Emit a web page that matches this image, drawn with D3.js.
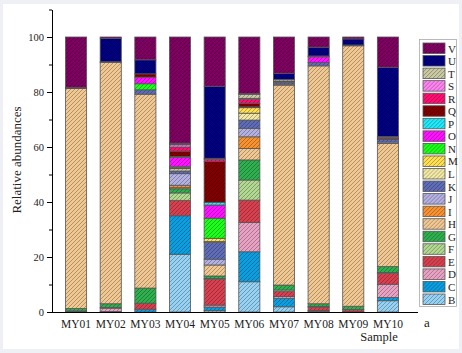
<!DOCTYPE html>
<html>
<head>
<meta charset="utf-8">
<script src="https://cdn.jsdelivr.net/npm/d3@7"></script>
<style>
  body { margin: 0; background: #eef0f6; }
  svg { display: block; }
</style>
</head>
<body>
<svg id="chart"></svg>
<script>
// taxa, bottom to top of each bar
const taxa = ["B","C","D","E","F","G","H","I","J","K","L","M","N","O","P","Q","R","S","T","U","V"];
const taxaColors = ["#96d2f4","#0a9fe0","#eaa2c4","#d8404f","#b2d991","#2fb04f","#f1c891","#f99231","#b4b2e2","#5f6db9",
                    "#f2e9a4","#ffe052","#1bff1b","#ff12ff","#20e9f9","#800000","#ff0f72","#ff84f2","#c9caa3","#000080","#800062"];
const samples = ["MY01","MY02","MY03","MY04","MY05","MY06","MY07","MY08","MY09","MY10"];
const yTicks = [0, 20, 40, 60, 80, 100];

//            B    C    D    E    F    G    H    I    J    K    L    M    N    O    P    Q    R    S    T    U    V
const my01 = [0.2, 0.2, 0,   0,   0,   0.9, 80.0,0,   0,   0,   0,   0,   0,   0,   0,   0.4, 0,   0,   0,   0,   18.3];
const my02 = [0.2, 0,   1.2, 0.2, 0,   1.4, 87.8,0,   0,   0.2, 0,   0,   0,   0,   0,   0,   0,   0,   0,   8.5, 0.5];
const my03 = [0,   1.0, 0,   2.2, 0,   5.5, 70.5,0,   0,   1.6, 0,   0,   2.2, 2.4, 0,   1.2, 0,   0,   0,   5.1, 8.3];
const my04 = [21,  14,  0,   5.6, 2.7, 1.5, 0.4, 0.9, 4.2, 1.0, 0.8, 0.3, 0.4, 3.4, 0.3, 2.0, 1.5, 0.8, 0.3, 0.3, 38.6];
const my05 = [0.6, 1.2, 0.7, 9.4, 0.3, 0.9, 4.0, 0,   2.1, 6.1, 0.3, 1.2, 7.3, 4.8, 1.0, 14.8,0.9, 0.3, 0,   26.2,17.9];
const my06 = [11,  10.9,10.6,8.2, 7.3, 7.3, 4.2, 4.2, 3.1, 3.0, 2.5, 2.0, 0.3, 0,   0,   1.3, 1.5, 0.3, 1.5, 0.3, 20.5];
const my07 = [1.9, 3.1, 0.6, 1.8, 0.6, 1.8, 72.7,0,   0.4, 0.6, 0.2, 0,   0,   0,   0,   0.3, 0,   0,   0.6, 2.2, 13.2];
const my08 = [0.3, 0,   0.3, 1.2, 0.2, 1.0, 86.5,0,   0,   1.2, 0,   0,   0,   2.1, 0,   0.3, 0,   0,   0,   3.2, 3.7];
const my09 = [0,   0.2, 0,   0.7, 0,   1.2, 94.7,0,   0,   0.3, 0,   0,   0,   0,   0,   0,   0,   0,   0,   2.2, 0.7];
const my10 = [4.1, 1.2, 4.8, 4.0, 0.3, 2.1, 44.8,0,   0.5, 1.0, 0,   0,   0,   0,   0,   0.3, 0.4, 0.3, 0,   25.2,11.0];

function makeChart() {
    const w = 462, h = 353;
    const rows = [my01, my02, my03, my04, my05, my06, my07, my08, my09, my10];
    const dataset = samples.map((s, i) => {
        let d = { sample: s };
        taxa.forEach((t, j) => d[t] = rows[i][j]);
        return d;
    });

    let svg = d3.select('#chart')
        .attr('width', w)
        .attr('height', h)
        .style('font-family', '"Liberation Serif", "Times New Roman", serif');

    // white panel
    svg.append('rect')
        .attr('x', 3).attr('y', 4)
        .attr('width', w - 6).attr('height', h - 8)
        .attr('fill', '#fff');

    // hatch fills
    let defs = svg.append('defs');
    taxa.forEach((t, i) => {
        let p = defs.append('pattern')
            .attr('id', 'hatch-' + t)
            .attr('patternUnits', 'userSpaceOnUse')
            .attr('width', 4).attr('height', 4);
        p.append('rect').attr('width', 4).attr('height', 4).attr('fill', taxaColors[i]);
        p.append('path')
            .attr('d', 'M-1,1 l2,-2 M0,4 l4,-4 M3,5 l2,-2')
            .attr('stroke', 'rgba(0,0,0,0.4)')
            .attr('stroke-width', 0.7);
    });

    let xScale = d3.scaleBand()
        .domain(samples)
        .range([52, 412])
        .padding(0.39);

    let yScale = d3.scaleLinear()
        .domain([0, 110])
        .range([312, 9.5]);

    let stackedData = d3.stack().keys(taxa)(dataset);

    svg.selectAll('g.layer')
        .data(stackedData)
        .enter()
        .append('g')
        .attr('class', 'layer')
        .attr('fill', d => `url(#hatch-${d.key})`)
        .selectAll('rect')
        .data(d => d.filter(v => v[1] - v[0] > 0))
        .enter()
        .append('rect')
        .attr('x', d => xScale(d.data.sample))
        .attr('y', d => yScale(d[1]))
        .attr('width', xScale.bandwidth())
        .attr('height', d => yScale(d[0]) - yScale(d[1]))
        .attr('stroke', '#555')
        .attr('stroke-width', 0.8);

    // y axis: major labelled ticks plus minor ticks
    let yAxis = d3.axisLeft(yScale)
        .tickValues(yTicks)
        .tickSize(5)
        .tickSizeOuter(0);
    let yAxisGroup = svg.append('g')
        .attr('transform', 'translate(52, 0)')
        .call(yAxis);
    yAxisGroup.selectAll('text')
        .attr('font-size', 10.5)
        .attr('font-family', '"Liberation Serif", serif')
        .attr('fill', '#222');
    svg.append('g')
        .attr('transform', 'translate(52, 0)')
        .call(d3.axisLeft(yScale).tickValues([10, 30, 50, 70, 90, 110]).tickSize(3).tickFormat(''))
        .select('.domain').remove();

    // x axis
    let xAxis = d3.axisBottom(xScale).tickSize(0).tickPadding(8);
    let xAxisGroup = svg.append('g')
        .attr('transform', 'translate(0, 312)')
        .call(xAxis);
    xAxisGroup.select('.domain').attr('d', 'M52,0.5H418');
    xAxisGroup.selectAll('text')
        .attr('font-size', 11.5)
        .attr('font-family', '"Liberation Serif", serif')
        .attr('fill', '#222');

    svg.append('text')
        .attr('transform', 'translate(21, 160) rotate(-90)')
        .attr('text-anchor', 'middle')
        .attr('font-size', 13)
        .attr('fill', '#222')
        .text('Relative abundances');

    svg.append('text')
        .attr('x', 379).attr('y', 341)
        .attr('text-anchor', 'middle')
        .attr('font-size', 12.5)
        .attr('fill', '#222')
        .text('Sample');

    svg.append('text')
        .attr('x', 427).attr('y', 327)
        .attr('text-anchor', 'middle')
        .attr('font-size', 13)
        .attr('fill', '#222')
        .text('a');

    // legend, V at top down to B
    let legend = svg.append('g').attr('transform', 'translate(421, 43)');
    legend.append('rect')
        .attr('x', -1.5).attr('y', -3.5)
        .attr('width', 37).attr('height', 267)
        .attr('fill', 'none')
        .attr('stroke', '#aaa')
        .attr('stroke-width', 0.8);
    let items = legend.selectAll('g.item')
        .data(taxa.slice().reverse())
        .enter()
        .append('g')
        .attr('class', 'item')
        .attr('transform', (d, i) => `translate(2, ${i * 12.55})`);
    items.append('rect')
        .attr('width', 22).attr('height', 10.5)
        .attr('fill', d => `url(#hatch-${d})`)
        .attr('stroke', '#555')
        .attr('stroke-width', 0.8);
    items.append('text')
        .attr('x', 25).attr('y', 9.5)
        .attr('font-size', 11)
        .attr('fill', '#222')
        .text(d => d);
}

window.onload = function() {
    makeChart();
}
</script>
</body>
</html>
